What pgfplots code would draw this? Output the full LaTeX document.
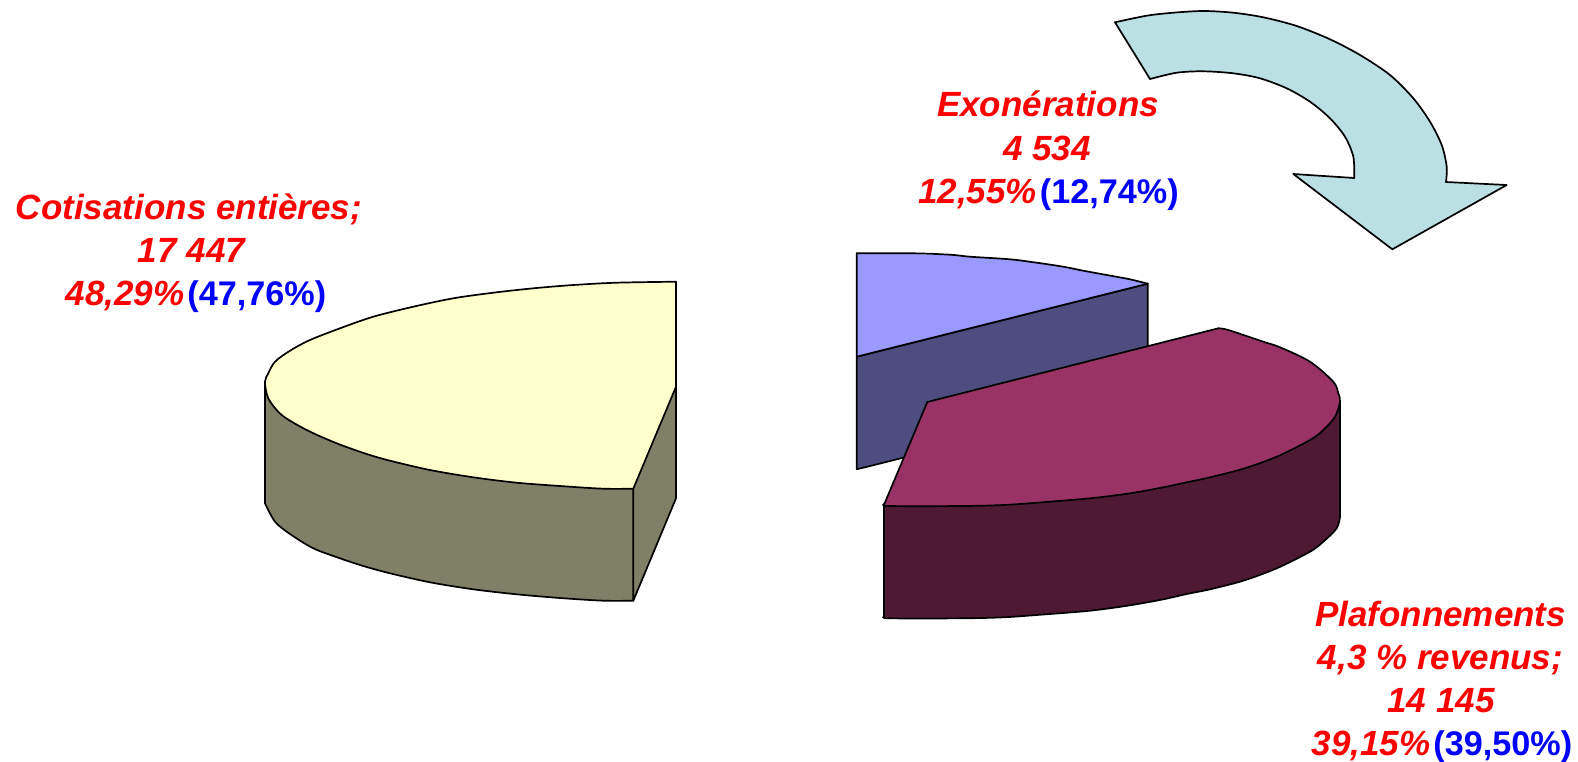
\documentclass[border=0pt]{standalone}
\usepackage{pgfplots}
\pgfplotsset{compat=1.18}
\usepackage{fontspec}
\setmainfont{Liberation Sans}
\definecolor{cyel}{HTML}{FFFFCC}
\definecolor{cyels}{HTML}{808066}
\definecolor{cblu}{HTML}{9999FF}
\definecolor{cblus}{HTML}{4D4D80}
\definecolor{cmar}{HTML}{993366}
\definecolor{cmars}{HTML}{4D1933}
\definecolor{carr}{HTML}{BBE0E3}
\newcommand{\R}[1]{\textcolor{red}{\bfseries\itshape #1}}
\newcommand{\B}[1]{\textcolor{blue}{\fontsize{34.2}{40}\selectfont\bfseries #1}}
\newcommand{\G}{\kern3pt}
\tikzset{lab/.style={anchor=base,inner sep=0pt,font=\fontsize{35}{40}\selectfont}}
\pgfplotsset{
  fl/.style={draw=none,fill=#1},
  ed/.style={draw=black,line width=1.7pt,line join=round,line cap=round,fill=none},
  ar/.style={draw=black,line width=1.7pt,line join=round,line cap=round,fill=none,smooth,tension=0.5}
}
\begin{document}
\begin{tikzpicture}
\useasboundingbox (0,0) rectangle (1578pt,761pt);
\begin{axis}[scale only axis,width=1578pt,height=761pt,xmin=0,xmax=1578,ymin=0,ymax=761,y dir=reverse,hide axis,clip=false,anchor=south west,at={(0,0)}]
% yellow slice: outer side
\addplot[fl=cyels] coordinates {(265,381.7)(265,503.3)(275,521.7)(290,534)(313.3,548.3)(340,558.3)(363.3,566)(390,573.3)(430,582.3)(473.3,589.3)(516.7,594.3)(560,598)(603.3,600.7)(633.3,600.7)(633.3,488.7)(603.3,488.7)(560,486)(516.7,482.7)(473.3,477.3)(430,470)(390,460.7)(366.7,454)(336.7,443.3)(306.7,430)(281.7,415)(268.3,398.3)} --cycle;
\addplot[ar] coordinates {(265,503.3)(275,521.7)(290,534)(313.3,548.3)(340,558.3)(363.3,566)(390,573.3)(430,582.3)(473.3,589.3)(516.7,594.3)(560,598)(603.3,600.7)(633.3,600.7)};
\addplot[ed] coordinates {(265,381.7)(265,503.3)};
% yellow slice: cut face
\addplot[fl=cyels] coordinates {(633.3,488.7)(676,386.7)(676,498.3)(633.3,600.7)} --cycle;
\addplot[ed] coordinates {(633.3,488.7)(633.3,600.7)(676,498.3)(676,386.7)};
% yellow slice: top
\addplot[fl=cyel] coordinates {(676,281.7)(616.7,282.7)(573.3,285)(533.3,288.3)(493.3,292.7)(453.3,298.3)(413.3,306.7)(373.3,316.7)(340,328.3)(310,340)(290,350.7)(275,361.7)(268.3,373.3)(265,381.7)(268.3,398.3)(281.7,415)(306.7,430)(336.7,443.3)(366.7,454)(390,460.7)(430,470)(473.3,477.3)(516.7,482.7)(560,486)(603.3,488.7)(633.3,488.7)(676,386.7)} --cycle;
\addplot[ar] coordinates {(676,281.7)(616.7,282.7)(573.3,285)(533.3,288.3)(493.3,292.7)(453.3,298.3)(413.3,306.7)(373.3,316.7)(340,328.3)(310,340)(290,350.7)(275,361.7)(268.3,373.3)(265,381.7)(268.3,398.3)(281.7,415)(306.7,430)(336.7,443.3)(366.7,454)(390,460.7)(430,470)(473.3,477.3)(516.7,482.7)(560,486)(603.3,488.7)(633.3,488.7)};
\addplot[ed] coordinates {(633.3,488.7)(676,386.7)(676,281.7)};
% blue slice
\addplot[fill=cblus,ed,fill=cblus] coordinates {(856.7,356.7)(1147.7,283.7)(1147.7,397)(856.7,469.3)} --cycle;
\addplot[fl=cblu] coordinates {(856.7,253.3)(913.3,253.3)(921.7,254.7)(950,254.7)(970,256.7)(1010,259.3)(1036.7,262.7)(1063.3,266.7)(1083.3,270.7)(1106.7,275)(1130,279.3)(1147.7,283.7)(856.7,356.7)} --cycle;
\addplot[ar] coordinates {(856.7,253.3)(913.3,253.3)(950,254.7)(970,256.7)(1010,259.3)(1036.7,262.7)(1063.3,266.7)(1083.3,270.7)(1106.7,275)(1130,279.3)(1147.7,283.7)};
\addplot[ed] coordinates {(1147.7,283.7)(856.7,356.7)(856.7,253.3)};
% maroon slice: side
\addplot[fl=cmars] coordinates {(884.3,504)(884.3,616.7)(890,618.3)(963.3,618.3)(1003.3,617.3)(1036.7,615)(1090,610.7)(1130,605.3)(1163.3,599.3)(1186.7,594)(1210,589.3)(1243.3,580.7)(1276.7,568.3)(1310,551.7)(1323.3,541.7)(1336.7,528.3)(1340,516.7)(1340,401.7)(1335,416.7)(1323.3,430)(1310,440)(1276.7,456.7)(1243.3,468.7)(1210,477.3)(1186.7,482.3)(1163.3,487.3)(1130,493.3)(1090,498.3)(1036.7,502.7)(1003.3,505)(963.3,506)(890,506)} --cycle;
\addplot[ar] coordinates {(884.3,616.7)(890,618.3)(963.3,618.3)(1003.3,617.3)(1036.7,615)(1090,610.7)(1130,605.3)(1163.3,599.3)(1186.7,594)(1210,589.3)(1243.3,580.7)(1276.7,568.3)(1310,551.7)(1323.3,541.7)(1336.7,528.3)(1340,516.7)};
\addplot[ed] coordinates {(884.3,504)(884.3,616.7)};
\addplot[ed] coordinates {(1340,401.7)(1340,516.7)};
% maroon slice: top
\addplot[fl=cmar] coordinates {(927.3,402)(1218.3,328.3)(1228.3,330)(1263.3,341.7)(1280,347.3)(1310,361.7)(1333.3,381.7)(1338.3,393.3)(1340,401.7)(1335,416.7)(1323.3,430)(1310,440)(1276.7,456.7)(1243.3,468.7)(1210,477.3)(1186.7,482.3)(1163.3,487.3)(1130,493.3)(1090,498.3)(1036.7,502.7)(1003.3,505)(963.3,506)(890,506)(884.3,504)} --cycle;
\addplot[ar] coordinates {(1218.3,328.3)(1228.3,330)(1263.3,341.7)(1280,347.3)(1310,361.7)(1333.3,381.7)(1338.3,393.3)(1340,401.7)(1335,416.7)(1323.3,430)(1310,440)(1276.7,456.7)(1243.3,468.7)(1210,477.3)(1186.7,482.3)(1163.3,487.3)(1130,493.3)(1090,498.3)(1036.7,502.7)(1003.3,505)(963.3,506)(890,506)(884.3,504)};
\addplot[ed] coordinates {(884.3,504)(927.3,402)(1218.3,328.3)};
% arrow
\addplot[fl=carr] coordinates {(1115,22.3)(1146.7,15.7)(1173.3,12.7)(1203.3,11)(1233.3,12.7)(1263.3,17.3)(1296.7,26)(1330,39.3)(1360,55)(1390,75)(1413.3,98.3)(1430,121.7)(1441.7,145)(1446.7,166.7)(1446,182)(1506.7,185)(1392.3,249.3)(1293.3,174)(1354.3,178)(1353.3,156.7)(1345,136.7)(1330,118.3)(1310,101.7)(1286.7,88.3)(1260,78.3)(1233.3,73.3)(1203.3,71.3)(1176.7,72.7)(1150,79)} --cycle;
\addplot[ar] coordinates {(1115,22.3)(1146.7,15.7)(1173.3,12.7)(1203.3,11)(1233.3,12.7)(1263.3,17.3)(1296.7,26)(1330,39.3)(1360,55)(1390,75)(1413.3,98.3)(1430,121.7)(1441.7,145)(1446.7,166.7)(1446,182)};
\addplot[ar] coordinates {(1354.3,178)(1353.3,156.7)(1345,136.7)(1330,118.3)(1310,101.7)(1286.7,88.3)(1260,78.3)(1233.3,73.3)(1203.3,71.3)(1176.7,72.7)(1150,79)};
\addplot[ed] coordinates {(1446,182)(1506.7,185)(1392.3,249.3)(1293.3,174)(1354.3,178)};
\addplot[ed] coordinates {(1150,79)(1115,22.3)};
% labels
\node[lab] at (axis cs:189,219) {\R{Cotisations entières;}};
\node[lab] at (axis cs:191.5,262.3) {\R{17 447}};
\node[lab] at (axis cs:196,305) {\R{48,29\%}\G\B{(47,76\%)}};
\node[lab] at (axis cs:1048,116) {\R{Exonérations}};
\node[lab] at (axis cs:1047,160) {\R{4 534}};
\node[lab] at (axis cs:1048.5,203.5) {\R{12,55\%}\G\B{(12,74\%)}};
\node[lab] at (axis cs:1440.5,626) {\R{Plafonnements}};
\node[lab] at (axis cs:1440.5,669.3) {\R{4,3 \% revenus;}};
\node[lab] at (axis cs:1441,712.3) {\R{14 145}};
\node[lab] at (axis cs:1442,755.7) {\R{39,15\%}\G\B{(39,50\%)}};
\end{axis}
\end{tikzpicture}
\end{document}
